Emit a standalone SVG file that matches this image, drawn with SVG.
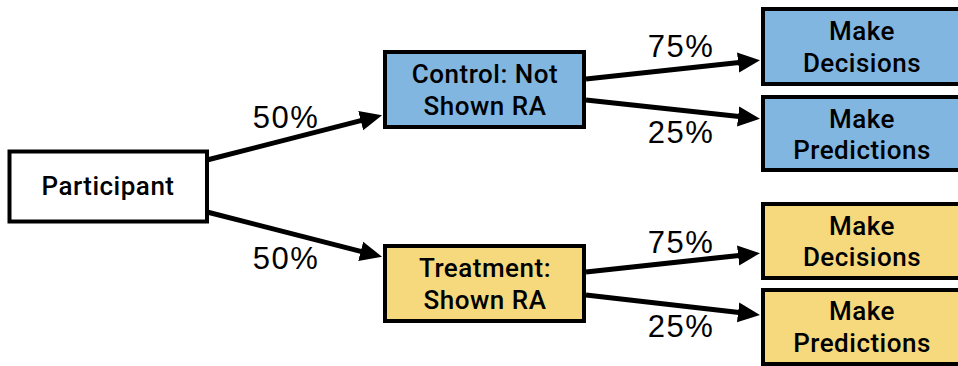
<svg xmlns="http://www.w3.org/2000/svg" width="958" height="366" viewBox="0 0 958 366">
  <style>
    .box { stroke: #000; stroke-width: 4; }
    .white { fill: #ffffff; }
    .blue { fill: #80b6df; }
    .yellow { fill: #f5d97c; }
    .node { font-family: Roboto, "Liberation Sans", Arial, sans-serif; font-weight: 500; font-size: 26px; letter-spacing: 0.5px; fill: #000; text-anchor: middle; }
    .pct { font-family: "Liberation Sans", Arial, sans-serif; font-size: 31px; letter-spacing: 1.5px; fill: #000; text-anchor: middle; }
    .edge { stroke: #000; stroke-width: 5; fill: none; marker-end: url(#head); }
  </style>
  <defs>
    <marker id="head" viewBox="0 -11 22 22" markerWidth="22" markerHeight="22" refX="1" refY="0" markerUnits="userSpaceOnUse" orient="auto">
      <path d="M0,-10 L22,0 L0,10 z" fill="#000"/>
    </marker>
  </defs>
  <rect width="958" height="366" fill="#ffffff"/>

  <g id="connectors">
    <path class="edge" d="M207,160 L361.7,120.4"/>
    <path class="edge" d="M207,212 L361.7,251.6"/>
    <path class="edge" d="M586,79 L739.1,62.4"/>
    <path class="edge" d="M586,100 L739.1,116.6"/>
    <path class="edge" d="M586,272 L739.1,255.4"/>
    <path class="edge" d="M586,295 L739.1,312.5"/>
    <text class="pct" x="286" y="128">50%</text>
    <text class="pct" x="286" y="269">50%</text>
    <text class="pct" x="681" y="57">75%</text>
    <text class="pct" x="681" y="143">25%</text>
    <text class="pct" x="681" y="253">75%</text>
    <text class="pct" x="681" y="337">25%</text>
  </g>

  <g id="participant">
    <rect class="box white" x="9.5" y="151.5" width="197.5" height="70"/>
    <text class="node" x="108" y="195">Participant</text>
  </g>

  <g id="control">
    <rect class="box blue" x="385" y="52" width="199" height="75"/>
    <text class="node" x="485" y="83">Control: Not</text>
    <text class="node" x="485" y="115">Shown RA</text>
  </g>

  <g id="treatment">
    <rect class="box yellow" x="385" y="246" width="199" height="75"/>
    <text class="node" x="485" y="277">Treatment:</text>
    <text class="node" x="485" y="309">Shown RA</text>
  </g>

  <g id="control-decisions">
    <rect class="box blue" x="763" y="9" width="198" height="75"/>
    <text class="node" x="862" y="40">Make</text>
    <text class="node" x="862" y="72">Decisions</text>
  </g>

  <g id="control-predictions">
    <rect class="box blue" x="763" y="97" width="198" height="73"/>
    <text class="node" x="862" y="128">Make</text>
    <text class="node" x="862" y="159">Predictions</text>
  </g>

  <g id="treatment-decisions">
    <rect class="box yellow" x="763" y="204" width="198" height="74"/>
    <text class="node" x="862" y="235">Make</text>
    <text class="node" x="862" y="266">Decisions</text>
  </g>

  <g id="treatment-predictions">
    <rect class="box yellow" x="763" y="290" width="198" height="74"/>
    <text class="node" x="862" y="320">Make</text>
    <text class="node" x="862" y="352">Predictions</text>
  </g>
</svg>
